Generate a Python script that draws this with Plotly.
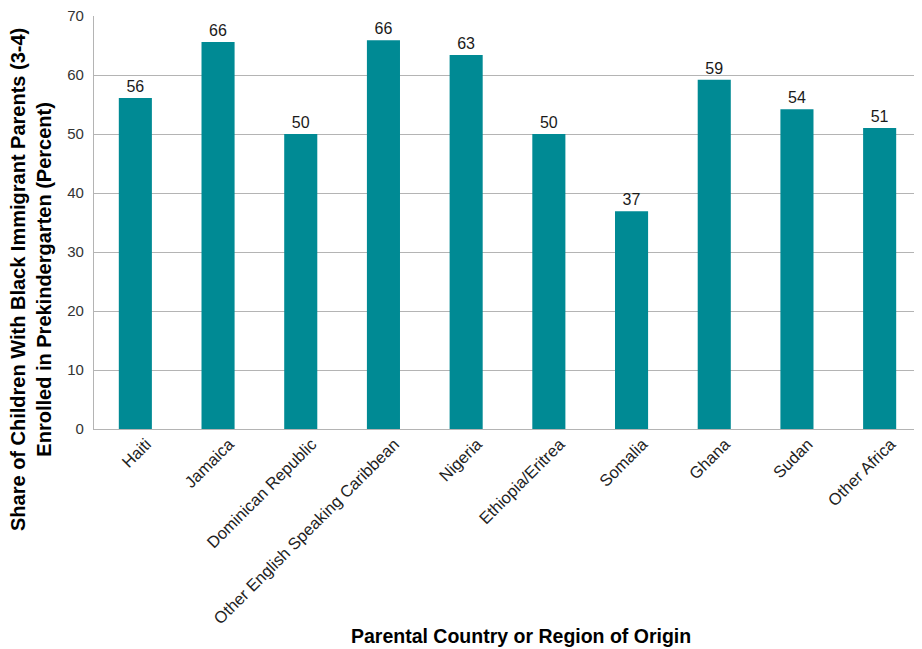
import plotly.graph_objects as go

categories = ["Haiti", "Jamaica", "Dominican Republic", "Other English Speaking Caribbean",
              "Nigeria", "Ethiopia/Eritrea", "Somalia", "Ghana", "Sudan", "Other Africa"]
values = [56.1, 65.6, 50.0, 65.9, 63.4, 50.0, 36.9, 59.2, 54.2, 51.0]
y_ticks = [0, 10, 20, 30, 40, 50, 60, 70]

FONT = "Liberation Sans, Arial, sans-serif"

fig = go.Figure(go.Bar(
    x=categories, y=values,
    marker=dict(color="#008A94", line=dict(width=0)),
    texttemplate="%{y:.0f}", textposition="outside",
    textfont=dict(family=FONT, size=16, color="#1a1a1a"),
    cliponaxis=False,
))

fig.update_layout(
    width=914, height=641,
    margin=dict(l=86, r=1, t=8, b=220, autoexpand=False),
    paper_bgcolor="white", plot_bgcolor="white",
    bargap=0.6,
    showlegend=False,
    font=dict(family=FONT, size=14, color="#222"),
    annotations=[
        dict(text="<b>Share of Children With Black Immigrant Parents (3-4)<br>Enrolled in Prekindergarten (Percent)</b>",
             xref="paper", yref="paper", x=(31 - 94) / 827, y=(429 - 280) / 413,
             xanchor="center", yanchor="middle", textangle=-90, showarrow=False,
             font=dict(family=FONT, size=20, color="#000")),
        dict(text="<b>Parental Country or Region of Origin</b>",
             xref="paper", yref="paper", x=(521 - 94) / 827, y=(429 - 636) / 413,
             xanchor="center", yanchor="middle", showarrow=False,
             font=dict(family=FONT, size=19.5, color="#000")),
    ],
)
fig.update_yaxes(
    range=[0, 70], tickmode="array", tickvals=y_ticks, showgrid=True, gridcolor="#B4B4B4", gridwidth=1.3,
    showline=True, linecolor="#B4B4B4", linewidth=1.3, ticks="", zeroline=False,
    tickfont=dict(size=15, color="#333"), ticklabelstandoff=6, automargin=False,
    ticklabeloverflow="allow",
)
fig.update_xaxes(
    tickangle=-45, showline=True, linecolor="#B4B4B4", linewidth=1.3, ticks="",
    tickfont=dict(size=16.5, color="#222"), automargin=False,
    ticklabelshift=11, ticklabelstandoff=-2,
)

fig.write_html("out.html")
